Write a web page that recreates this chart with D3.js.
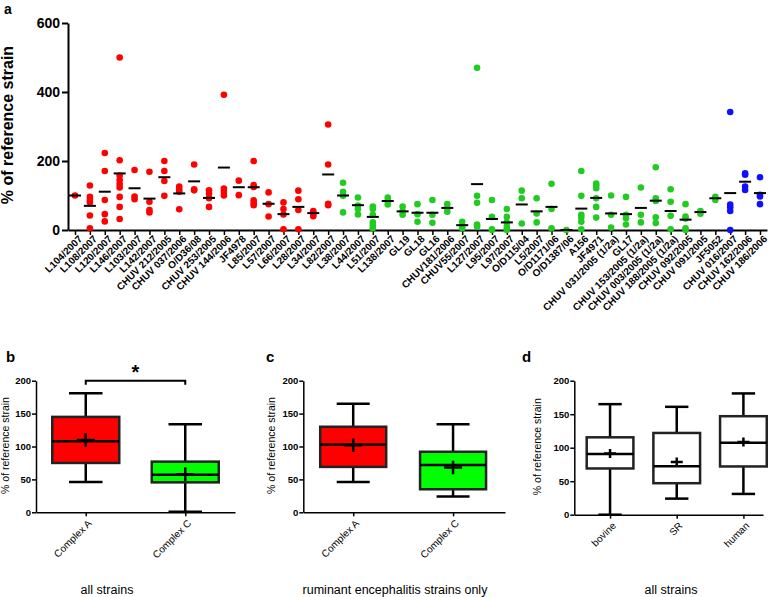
<!DOCTYPE html>
<html>
<head>
<meta charset="utf-8">
<script src="https://cdn.jsdelivr.net/npm/d3@7"></script>
<style>
body{margin:0;background:#fff;}
svg{display:block;font-family:"Liberation Sans",Arial,sans-serif;}
svg text{fill:#000;}
</style>
</head>
<body>
<svg id="chart" width="778" height="597"></svg>
<script>
// ---- panel a: single strains ----
var strains = ["L104/2007","L108/2007","L120/2007","L146/2007","L103/2007","L142/2007",
    "CHUV 212/2005","CHUV 037/2006","O/D36/08","CHUV 253/2005","CHUV 144/2006","JF4978",
    "L85/2007","L57/2007","L66/2007","L28/2007","L34/2007","L82/2007",
    "L38/2007","L44/2007","L51/2007","L138/2007","GL19","GL18","GL16","CHUV181/2006",
    "CHUV55/2007","L127/2007","L95/2007","L97/2007","O/D115/04","L5/2007","O/D1171/06",
    "O/D1387/06","A156","JF4971","CHUV 031/2005 (1/2a)","GL17","CHUV 153/2005 (1/2a)",
    "CHUV 003/2005 (1/2a)","CHUV 188/2005 (1/2a)","CHUV 092/2005","CHUV 091/2005","JF5052",
    "CHUV 016/2007","CHUV 162/2006","CHUV 186/2006"];

// A = complex A (red), C = complex C (green), H = blue group
var strainGroup = ["A","A","A","A","A","A","A","A","A","A","A","A","A","A","A","A","A","A",
    "C","C","C","C","C","C","C","C","C","C","C","C","C","C","C","C","C","C","C","C","C","C",
    "C","C","C","C","H","H","H"];

var strainValues = [
    [100],[129,96,88,80,42,5],[223,171,87,46,25],[500,202,158,145,133,123,96,67,32],
    [174,97,89],[169,82,58,51],[200,171,142,99],[126,118,111,60],[190,118,115],
    [115,105,92,67],[392,120,110,100],[143,101],[200,130,125,86,78,72],[109,75,39],
    [80,61,45,2],[114,89,58,2],[55,50,45,40],[306,190,76,72],
    [137,111,99,51],[94,71,61,45],[68,61,44,22,13,5],[94,84,74],[68,54,44],[75,46,24],
    [87,44,21],[75,63,53],[24,10,5],[470,99,79,16,10],[87,38,2,0],[61,38,22,10,2,0],
    [114,92,19],[92,48,22],[134,61,5],[0],[171,99,44,36,24,2],[135,129,121,92,67,36],
    [100,44,7],[96,44,34,16],[123,44,22],[182,92,84,37,20],[118,82,41,2],[75,39,33,5,0],
    [55,47],[96,87],[342,74,66,55,0],[164,160,126,116],[153,102,97,75]];

var strainMeans = [100,70,111,164,121,91,153,106,141,93,181,124,124,76,46,67,49,161,
    100,72,38,84,54,50,50,64,14,133,32,22,74,54,67,0,62,93,48,46,64,85,55,30,52,92,
    107,140,107];

var aTicks = [0,200,400,600];

// ---- panels b, c, d: box plots [min, q1, median, q3, max, mean] ----
var bCategories = ["Complex A","Complex C"];
var bStats = [[46,75,108,145,181,110],[1,45.5,57,77,134,58]];

var cCategories = ["Complex A","Complex C"];
var cStats = [[46,69,103,130,165,102],[24,35,72,92,134,68]];

var dCategories = ["bovine","SR","human"];
var dStats = [[0,69,90.5,115.5,165,91.5],[24,47,72.5,122,161,78.5],[31,72,107.5,147,181,108.5]];

var boxTicks = [0,50,100,150,200];

var groupColor = {A:"#ff0000", C:"#20cc20", H:"#1010ff"};

var svg = d3.select("#chart");

/* panel a */
var ga = svg.append("g");
var xA = d3.scalePoint().domain(strains).range([68, 767]).padding(0.47);
var yA = d3.scaleLinear().domain([0, 600]).range([230, 23]);

ga.append("g")
    .attr("transform", "translate(68,0)")
    .call(d3.axisLeft(yA).tickValues(aTicks).tickSize(6).tickSizeOuter(0))
    .call(function(g){
        g.select(".domain").attr("stroke-width", 2);
        g.selectAll(".tick line").attr("stroke-width", 2);
        g.selectAll("text").attr("font-size", 14).attr("font-weight", "bold").attr("x", -8);
    });

ga.append("g")
    .attr("transform", "translate(0,230)")
    .call(d3.axisBottom(xA).tickSize(5).tickSizeOuter(0))
    .call(function(g){
        g.select(".domain").attr("stroke-width", 2);
        g.selectAll(".tick line").attr("stroke-width", 1.5);
        g.selectAll("text")
            .attr("font-size", 10)
            .attr("font-weight", "bold")
            .attr("text-anchor", "end")
            .attr("x", -1.5)
            .attr("y", 8.5)
            .attr("dy", "0.35em")
            .attr("transform", "rotate(-45)");
    });

var flat = [];
strainValues.forEach(function(vals, i){
    vals.forEach(function(v){
        flat.push({strain: strains[i], group: strainGroup[i], value: v});
    });
});

ga.selectAll("circle.dot")
    .data(flat)
    .enter()
    .append("circle")
    .attr("class", "dot")
    .attr("cx", function(d){ return xA(d.strain); })
    .attr("cy", function(d){ return yA(d.value); })
    .attr("r", 3.3)
    .style("fill", function(d){ return groupColor[d.group]; });

ga.selectAll("line.mean")
    .data(strainMeans)
    .enter()
    .append("line")
    .attr("class", "mean")
    .attr("x1", function(d, i){ return xA(strains[i]) - 6; })
    .attr("x2", function(d, i){ return xA(strains[i]) + 6; })
    .attr("y1", function(d){ return yA(d); })
    .attr("y2", function(d){ return yA(d); })
    .style("stroke", "#000")
    .style("stroke-width", 2);

ga.append("text")
    .attr("transform", "translate(13,125) rotate(-90)")
    .attr("text-anchor", "middle")
    .attr("font-size", 16)
    .attr("font-weight", "bold")
    .text("% of reference strain");

/* box panels */
function drawBoxPanel(cats, stats, fills, opt){
    var g = svg.append("g");
    var x = d3.scalePoint().domain(cats).range(opt.xRange).padding(opt.pad).align(opt.align);
    var y = d3.scaleLinear().domain([0, 200]).range(opt.yRange);
    var bw = opt.boxW;

    g.append("g")
        .attr("transform", "translate(" + opt.xRange[0] + ",0)")
        .call(d3.axisLeft(y).tickValues(boxTicks).tickSize(4).tickSizeOuter(0))
        .call(function(a){
            a.select(".domain").attr("stroke-width", 1.5);
            a.selectAll(".tick line").attr("stroke-width", 1.5);
            a.selectAll("text").attr("font-size", 9.5).attr("font-weight", "bold").attr("x", -5);
        });

    g.append("g")
        .attr("transform", "translate(0," + opt.yRange[0] + ")")
        .call(d3.axisBottom(x).tickSize(4).tickSizeOuter(0))
        .call(function(a){
            a.select(".domain").attr("stroke-width", 1.5);
            a.selectAll(".tick line").attr("stroke-width", 1.5);
            a.selectAll("text")
                .attr("font-size", 10)
                .attr("text-anchor", "end")
                .attr("x", -4)
                .attr("y", 9)
                .attr("dy", "0.35em")
                .attr("transform", "rotate(-45)");
        });

    var box = g.selectAll("g.box")
        .data(stats)
        .enter()
        .append("g")
        .attr("class", "box")
        .attr("transform", function(d, i){ return "translate(" + x(cats[i]) + ",0)"; });

    box.append("line")
        .attr("y1", function(d){ return y(d[0]); })
        .attr("y2", function(d){ return y(d[4]); })
        .style("stroke", "#000").style("stroke-width", 2.5);
    box.append("line")
        .attr("x1", -bw / 4).attr("x2", bw / 4)
        .attr("y1", function(d){ return y(d[4]); })
        .attr("y2", function(d){ return y(d[4]); })
        .style("stroke", "#000").style("stroke-width", 2.5);
    box.append("line")
        .attr("x1", -bw / 4).attr("x2", bw / 4)
        .attr("y1", function(d){ return y(d[0]); })
        .attr("y2", function(d){ return y(d[0]); })
        .style("stroke", "#000").style("stroke-width", 2.5);
    box.append("rect")
        .attr("x", -bw / 2)
        .attr("width", bw)
        .attr("y", function(d){ return y(d[3]); })
        .attr("height", function(d){ return y(d[1]) - y(d[3]); })
        .style("fill", function(d, i){ return fills[i]; })
        .style("stroke", "#222").style("stroke-width", 2.5);
    box.append("line")
        .attr("x1", -bw / 2).attr("x2", bw / 2)
        .attr("y1", function(d){ return y(d[2]); })
        .attr("y2", function(d){ return y(d[2]); })
        .style("stroke", "#000").style("stroke-width", 2.5);
    box.append("path")
        .attr("d", function(d){
            var m = y(d[5]), s = opt.plus;
            return "M" + (-s) + "," + m + "H" + s + "M0," + (m - s * 0.75) + "V" + (m + s * 0.75);
        })
        .style("stroke", "#000").style("stroke-width", 2.5).style("fill", "none");

    g.append("text")
        .attr("transform", "translate(" + opt.labelX + "," + ((opt.yRange[0] + opt.yRange[1]) / 2 - 1) + ") rotate(-90)")
        .attr("text-anchor", "middle")
        .attr("font-size", 10.5)
        .text("% of reference strain");

    g.append("text")
        .attr("x", opt.titleX).attr("y", 594)
        .attr("text-anchor", "middle")
        .attr("font-size", 12.5)
        .text(opt.title);

    g.append("text")
        .attr("x", opt.letterX).attr("y", 362)
        .attr("font-size", 15)
        .attr("font-weight", "bold")
        .text(opt.letter);

    return {g: g, x: x, y: y};
}

var pb = drawBoxPanel(bCategories, bStats, ["#ff0000", "#00ff00"], {
    xRange: [36, 235], yRange: [512.3, 380.7], pad: 0.5, align: 0.5, boxW: 67, plus: 9,
    labelX: 9, titleX: 107, title: "all strains", letter: "b", letterX: 6
});
var pc = drawBoxPanel(cCategories, cStats, ["#ff0000", "#00ff00"], {
    xRange: [303.3, 505], yRange: [512.3, 380.7], pad: 0.51, align: 0.49, boxW: 66, plus: 9,
    labelX: 275, titleX: 395, title: "ruminant encephalitis strains only", letter: "c", letterX: 266
});
var pd = drawBoxPanel(dCategories, dStats, ["#ffffff", "#ffffff", "#ffffff"], {
    xRange: [574.3, 763], yRange: [514.7, 380.7], pad: 0.415, align: 0.646, boxW: 46.7, plus: 6,
    labelX: 541, titleX: 671, title: "all strains", letter: "d", letterX: 522
});

// significance bracket between complex A and C in panel b
var bx1 = pb.x(bCategories[0]), bx2 = pb.x(bCategories[1]), by = pb.y(200);
pb.g.append("path")
    .attr("d", "M" + bx1 + "," + (by + 4) + "V" + by + "H" + bx2 + "V" + (by + 4))
    .style("fill", "none").style("stroke", "#000").style("stroke-width", 2);
pb.g.append("text")
    .attr("x", (bx1 + bx2) / 2).attr("y", by - 2)
    .attr("text-anchor", "middle")
    .attr("font-size", 20)
    .attr("font-weight", "bold")
    .text("*");

ga.append("text")
    .attr("x", 4).attr("y", 14)
    .attr("font-size", 14)
    .attr("font-weight", "bold")
    .text("a");
</script>
</body>
</html>
